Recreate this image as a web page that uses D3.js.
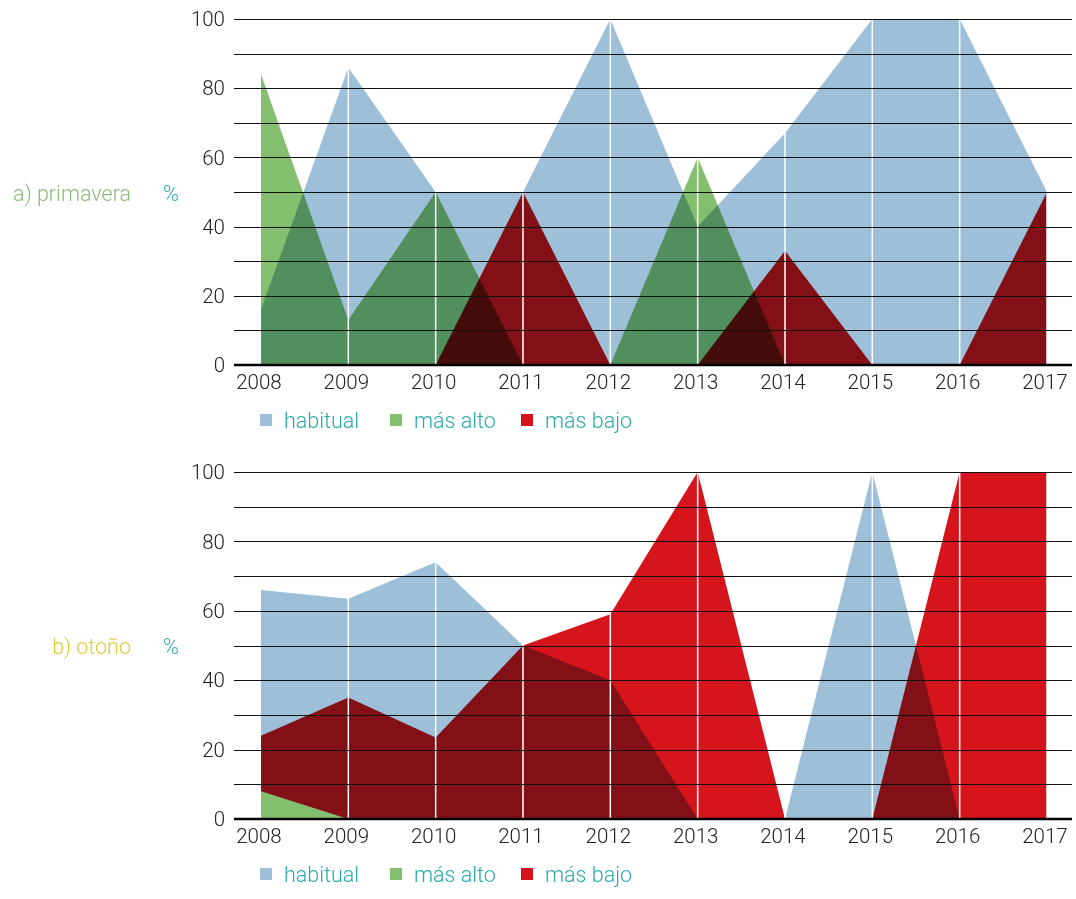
<!DOCTYPE html>
<html>
<head>
<meta charset="utf-8">
<script src="https://cdn.jsdelivr.net/npm/d3@7"></script>
<style>
  body { margin: 0; background: #fff; }
  svg text { font-family: Roboto, "Liberation Sans", sans-serif; font-weight: 300; }
</style>
</head>
<body>
<svg id="chart" width="1076" height="899"></svg>
<script>
// years on the x axis
var years = [2008, 2009, 2010, 2011, 2012, 2013, 2014, 2015, 2016, 2017];
var yTicks = [0, 20, 40, 60, 80, 100];
var seriesNames = ["habitual", "más alto", "más bajo"];

// a) primavera
var springHabitual = [16, 86, 50, 50, 100, 40, 67, 100, 100, 50];
var springAlto     = [84, 13, 50, 0, 0, 60, 0, 0, 0, 0];
var springBajo     = [0, 0, 0, 50, 0, 0, 33, 0, 0, 50];

// b) otoño
var autumnHabitual = [66, 63.5, 74, 50, 40, 0, 0, 100, 0, 0];
var autumnAlto     = [8, 0, 0, 0, 0, 0, 0, 0, 0, 0];
var autumnBajo     = [24, 35, 23.5, 50, 59, 100, 0, 0, 100, 100];

var colors = { "habitual": "#9dbfd8", "más alto": "#83bf6e", "más bajo": "#d5151b" };

var svg = d3.select("#chart");

var x = d3.scaleLinear().domain([2008, 2017]).range([261, 1047]);

function drawPanel(top, bottom, title, titleColor, series) {
  var y = d3.scaleLinear().domain([0, 100]).range([bottom, top]);
  var g = svg.append("g");

  var area = d3.area()
      .x(function(d, i) { return x(years[i]); })
      .y0(y(0))
      .y1(function(d) { return y(d); });

  series.forEach(function(s) {
    g.append("path")
        .attr("d", area(s.values))
        .attr("fill", colors[s.name])
        .style("mix-blend-mode", s.blend);
  });

  // white year lines
  g.selectAll(".vline").data(years.slice(1)).enter().append("line")
      .attr("x1", function(d) { return x(d); })
      .attr("x2", function(d) { return x(d); })
      .attr("y1", y(0))
      .attr("y2", y(100))
      .attr("stroke", "#fff")
      .attr("stroke-width", 1.5);

  // horizontal grid every 10
  g.selectAll(".grid").data(d3.range(10, 101, 10)).enter().append("line")
      .attr("x1", 234).attr("x2", 1072)
      .attr("y1", function(d) { return Math.round(y(d)) + 0.5; })
      .attr("y2", function(d) { return Math.round(y(d)) + 0.5; })
      .attr("stroke", "#111")
      .attr("stroke-width", 1);

  g.append("line")
      .attr("x1", 234).attr("x2", 1072)
      .attr("y1", y(0)).attr("y2", y(0))
      .attr("stroke", "#000")
      .attr("stroke-width", 2.5);

  // y labels
  g.selectAll(".ylab").data(yTicks).enter().append("text")
      .attr("x", 225)
      .attr("y", function(d) { return y(d); })
      .attr("dy", "0.35em")
      .attr("text-anchor", "end")
      .attr("font-size", 20.5)
      .attr("fill", "#222")
      .text(function(d) { return d; });

  // x labels
  g.selectAll(".xlab").data(years).enter().append("text")
      .attr("x", function(d) { return x(d) - 2; })
      .attr("y", bottom + 24)
      .attr("text-anchor", "middle")
      .attr("font-size", 20.5)
      .attr("fill", "#222")
      .text(function(d) { return d; });

  // title and unit
  g.append("text")
      .attr("x", 131)
      .attr("y", y(50) + 1)
      .attr("dy", "0.35em")
      .attr("text-anchor", "end")
      .attr("font-size", 21.5)
      .attr("fill", titleColor)
      .text(title);
  g.append("text")
      .attr("x", 171)
      .attr("y", y(50) + 1)
      .attr("dy", "0.35em")
      .attr("text-anchor", "middle")
      .attr("font-size", 21.5)
      .attr("fill", "#2aa9a9")
      .text("%");

  // legend
  var legendX = [260, 390, 521];
  var lg = g.selectAll(".leg").data(seriesNames).enter().append("g")
      .attr("transform", function(d, i) { return "translate(" + legendX[i] + "," + (bottom + 55) + ")"; });
  lg.append("rect")
      .attr("x", 0).attr("y", -6)
      .attr("width", 12).attr("height", 12)
      .attr("fill", function(d) { return colors[d]; });
  lg.append("text")
      .attr("x", 24)
      .attr("dy", "0.35em")
      .attr("font-size", 21.5)
      .attr("fill", "#2aa9a9")
      .text(function(d) { return d; });
}

drawPanel(19, 365, "a) primavera", "#8dba7b", [
  { name: "habitual", values: springHabitual, blend: "normal" },
  { name: "más alto", values: springAlto, blend: "multiply" },
  { name: "más bajo", values: springBajo, blend: "multiply" }
]);

drawPanel(472, 819, "b) otoño", "#dcc83c", [
  { name: "habitual", values: autumnHabitual, blend: "normal" },
  { name: "más bajo", values: autumnBajo, blend: "multiply" },
  { name: "más alto", values: autumnAlto, blend: "normal" }
]);
</script>
</body>
</html>
